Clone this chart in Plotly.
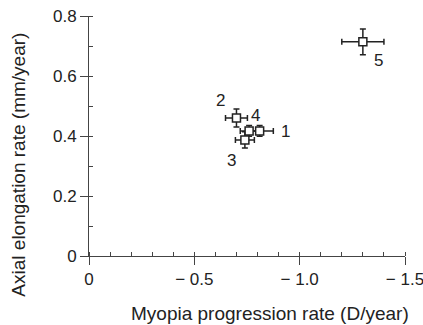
import plotly.graph_objects as go

labels = ["1", "2", "3", "4", "5"]
myopia = [-0.81, -0.70, -0.74, -0.76, -1.30]
axial = [0.417, 0.46, 0.387, 0.417, 0.714]
myopia_err = [0.065, 0.052, 0.045, 0.042, 0.10]
axial_err = [0.018, 0.03, 0.027, 0.018, 0.043]
label_dx = [26, -16, -13, 6, 16]
label_dy = [-1, 18, -21, 15, -19]

xtick_vals = [0, -0.5, -1.0, -1.5]
xtick_text = ["0", "\u2212 0.5", "\u2212 1.0", "\u2212 1.5"]
ytick_vals = [0, 0.2, 0.4, 0.6, 0.8]
ytick_text = ["0", "0.2", "0.4", "0.6", "0.8"]

x_title = "Myopia progression rate (D/year)"
y_title = "Axial elongation rate (mm/year)"

font = "Liberation Sans, Arial, sans-serif"
ink = "#222222"

fig = go.Figure()
fig.add_trace(go.Scatter(
    x=myopia, y=axial, mode="markers",
    marker=dict(symbol="square", size=8, color="white",
                line=dict(color=ink, width=1.5)),
    error_x=dict(type="data", array=myopia_err, color=ink, thickness=1.5, width=3),
    error_y=dict(type="data", array=axial_err, color=ink, thickness=1.5, width=3),
    showlegend=False, cliponaxis=False, hoverinfo="skip",
))

for lab, x, y, dx, dy in zip(labels, myopia, axial, label_dx, label_dy):
    fig.add_annotation(x=x, y=y, text=lab, showarrow=False,
                       xshift=dx, yshift=dy,
                       font=dict(family=font, size=17, color=ink))

fig.add_annotation(xref="paper", yref="paper", x=0.573, y=-0.2375,
                   text=x_title, showarrow=False, xanchor="center", yanchor="middle",
                   font=dict(family=font, size=19, color=ink))
fig.add_annotation(xref="paper", yref="paper", x=-0.222, y=0.38,
                   text=y_title, showarrow=False, xanchor="center", yanchor="middle",
                   textangle=-90,
                   font=dict(family=font, size=19, color=ink))

axis_common = dict(showgrid=False, zeroline=False, showline=True,
                   linecolor="#444444", linewidth=1, automargin=False,
                   ticks="outside", ticklen=8, tickcolor="#444444",
                   ticklabeloverflow="allow",
                   tickfont=dict(family=font, size=17, color=ink))

fig.update_xaxes(range=[0, -1.5], tickvals=xtick_vals, ticktext=xtick_text,
                 minor=dict(dtick=0.1, ticks="inside", ticklen=4, tickcolor="#444444"),
                 **axis_common)
fig.update_yaxes(range=[0, 0.8], tickvals=ytick_vals, ticktext=ytick_text,
                 minor=dict(dtick=0.1, ticks="inside", ticklen=4, tickcolor="#444444"),
                 **axis_common)

fig.update_layout(width=423, height=325,
                  margin=dict(l=89, r=18, t=16, b=69),
                  paper_bgcolor="white", plot_bgcolor="white")

fig.write_html("out.html", config={"displayModeBar": False},
               post_script="document.body.style.margin='0px';")
